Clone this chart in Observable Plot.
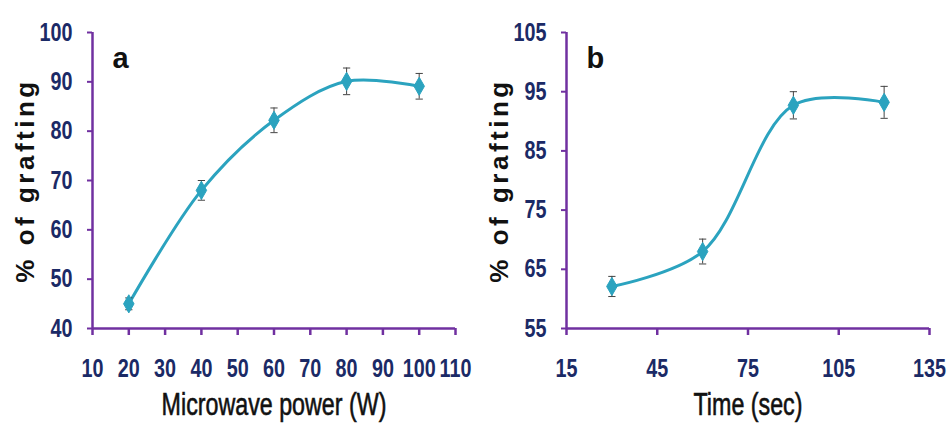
<!DOCTYPE html>
<html><head><meta charset="utf-8">
<script src="https://cdn.jsdelivr.net/npm/d3@7"></script>
<script src="https://cdn.jsdelivr.net/npm/@observablehq/plot@0.6"></script>
<style>
body{margin:0;background:#fff;}
#wrap{display:flex;width:948px;height:431px;}
svg{overflow:visible}
</style></head><body><div id="wrap"></div>
<script>
// Panel a: microwave power
const powerW = [20, 40, 60, 80, 100];
const graftA = [45, 68, 82.2, 90.1, 89.1];
const errA = [1.2, 2, 2.5, 2.7, 2.6];
const xTicksA = [10, 20, 30, 40, 50, 60, 70, 80, 90, 100, 110];
const yTicksA = [40, 50, 60, 70, 80, 90, 100];
// Panel b: time
const timeSec = [30, 60, 90, 120];
const graftB = [62.1, 68, 92.7, 93.2];
const errB = [1.7, 2.1, 2.3, 2.7];
const xTicksB = [15, 45, 75, 105, 135];
const yTicksB = [55, 65, 75, 85, 95, 105];

const purple = "#7030a0", navy = "#1b2a66", teal = "#2ba3bf";
const arial = "'Liberation Sans',Arial,sans-serif";

function panel({xs, ys, es, xTicks, yTicks, xLabel, letter, capHalf}) {
  const data = xs.map((x, i) => ({x, y: ys[i], e: es[i]}));
  const xd = [xTicks[0], xTicks[xTicks.length - 1]];
  const yd = [yTicks[0], yTicks[yTicks.length - 1]];
  return Plot.plot({
    width: 474, height: 431,
    marginLeft: 92, marginRight: 19, marginTop: 32, marginBottom: 103,
    style: {background: "white", overflow: "visible"},
    x: {domain: xd},
    y: {domain: yd},
    marks: [
      Plot.axisY({ticks: yTicks, tickSize: 5, tickPadding: 15, stroke: purple, strokeWidth: 2,
        fill: navy, fontSize: 25, fontWeight: "bold", fontFamily: arial, label: null, className: "tick"}),
      Plot.axisX({ticks: xTicks, tickSize: 7, tickPadding: 24, stroke: purple, strokeWidth: 2.5,
        fill: navy, fontSize: 25, fontWeight: "bold", fontFamily: arial, label: null, className: "tick"}),
      Plot.ruleX([xd[0]], {stroke: purple, strokeWidth: 2.5}),
      Plot.ruleY([yd[0]], {stroke: purple, strokeWidth: 2.5}),
      Plot.line(data, {x: "x", y: "y", curve: "catmull-rom", stroke: teal, strokeWidth: 3}),
      Plot.ruleX(data, {x: "x", y1: d => d.y - d.e, y2: d => d.y + d.e, stroke: "#444", strokeWidth: 1}),
      Plot.link(data, {x1: d => d.x - capHalf, x2: d => d.x + capHalf, y1: d => d.y + d.e, y2: d => d.y + d.e, stroke: "#444", strokeWidth: 1}),
      Plot.link(data, {x1: d => d.x - capHalf, x2: d => d.x + capHalf, y1: d => d.y - d.e, y2: d => d.y - d.e, stroke: "#444", strokeWidth: 1}),
      Plot.dot(data, {x: "x", y: "y", symbol: "diamond", r: 5.5, fill: teal, stroke: teal, strokeWidth: 1}),
      Plot.text(["% of grafting"], {frameAnchor: "left", textAnchor: "middle", rotate: -90, dx: -67, fontSize: 26,
        fontWeight: "bold", fontFamily: arial, fill: "#111", className: "keep ytitle"}),
      Plot.text([xLabel], {frameAnchor: "bottom", dy: 86, fontSize: 31, fontFamily: arial, fill: "#111", className: "xtitle"}),
      Plot.text([letter], {frameAnchor: "top-left", dx: 20, dy: 15, textAnchor: "start", fontSize: 29,
        fontWeight: "bold", fontFamily: arial, fill: "#111", className: "keep"})
    ]
  });
}

const wrap = document.getElementById("wrap");
wrap.append(panel({xs: powerW, ys: graftA, es: errA, xTicks: xTicksA, yTicks: yTicksA,
  xLabel: "Microwave power (W)", letter: "a", capHalf: 1}));
wrap.append(panel({xs: timeSec, ys: graftB, es: errB, xTicks: xTicksB, yTicks: yTicksB,
  xLabel: "Time (sec)", letter: "b", capHalf: 1.2}));
// narrow (Arial Narrow-like) lettering for ticks and x titles
function narrowText(sel, k) {
  document.querySelectorAll(sel).forEach(t => {
    const w = t.getComputedTextLength();
    t.setAttribute("textLength", (w * k).toFixed(2));
    t.setAttribute("lengthAdjust", "spacingAndGlyphs");
  });
}
narrowText(".tick text", 0.79);
narrowText(".xtitle text", 0.75);
d3.selectAll(".xtitle text").style("stroke", "#111").style("stroke-width", "0.6px");
d3.selectAll(".ytitle text").style("letter-spacing", "3.5px");
</script></body></html>
